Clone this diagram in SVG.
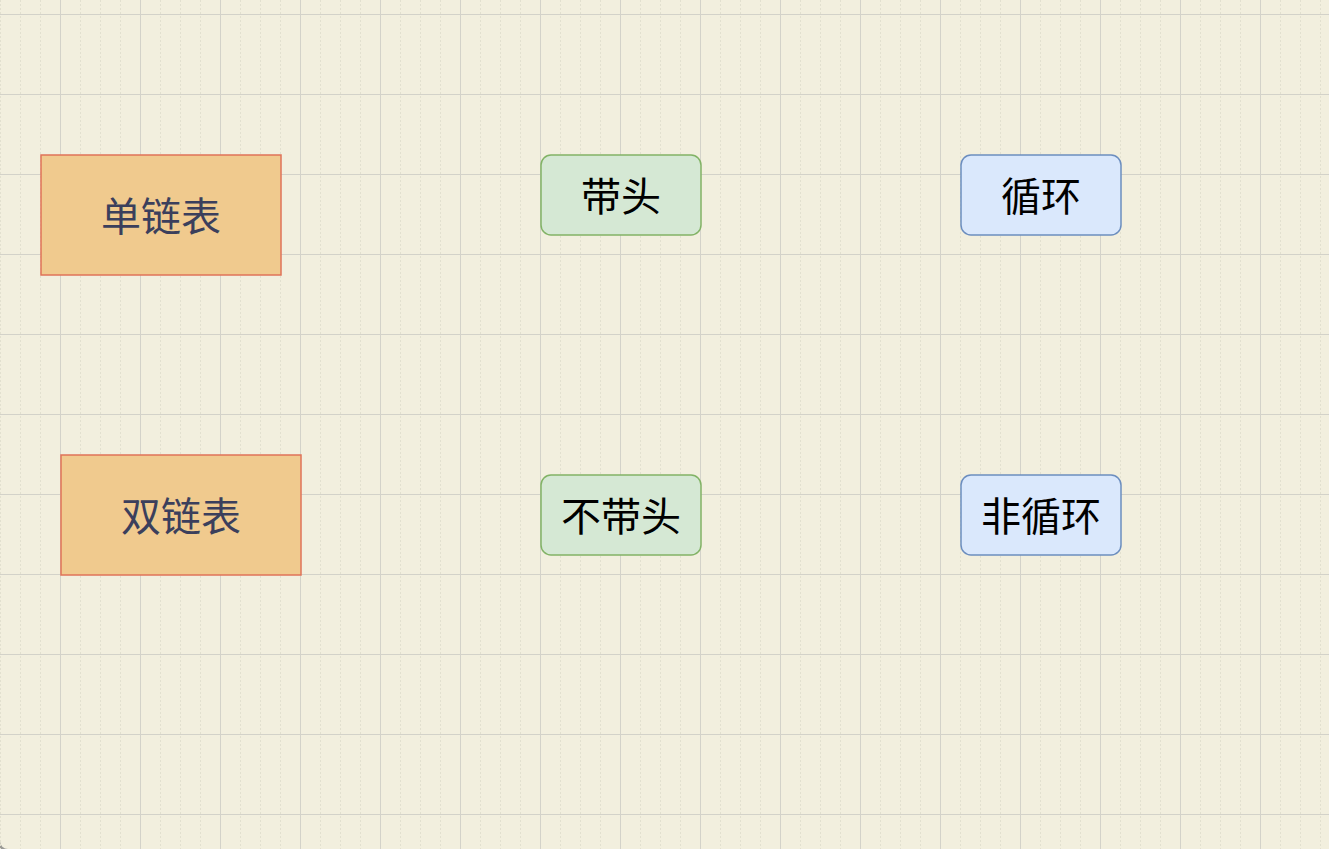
<svg xmlns="http://www.w3.org/2000/svg" width="1329" height="849" viewBox="0 0 1329 849">
<defs>
<pattern id="minor" x="0" y="0" width="20" height="4" patternUnits="userSpaceOnUse">
<path d="M0.5 0 V2" fill="none" stroke="#e2e0cf" stroke-width="1"/>
</pattern>
<pattern id="major" x="60" y="14" width="80" height="80" patternUnits="userSpaceOnUse">
<path d="M0 0.5 H80 M0.5 0 V80" fill="none" stroke="#d3d2c9" stroke-width="1"/>
</pattern>
</defs>
<style>
.cn{font-family:"Noto Sans CJK SC","Noto Sans",sans-serif;font-size:40px;text-anchor:middle;dominant-baseline:central}
.list rect{fill:#f0ca8e;stroke:#e07358;stroke-width:1.5}
.list text{fill:#3b3f5c}
.head rect{fill:#d5e8d4;stroke:#82b366;stroke-width:1.5}
.loop rect{fill:#dae8fc;stroke:#6c8ebf;stroke-width:1.5}
.head text,.loop text{fill:#000}
</style>
<rect width="1329" height="849" fill="#9a9a96"/>
<path d="M0 0 H1329 V849 H8 A8 8 0 0 1 0 841 Z" fill="#f2efde"/>
<rect width="1329" height="849" fill="url(#minor)"/>
<rect width="1329" height="849" fill="url(#major)"/>
<g id="connectors"></g>
<g id="node-single" class="list"><rect x="41" y="155" width="240" height="120"/><text class="cn" x="161" y="214">单链表</text></g>
<g id="node-double" class="list"><rect x="61" y="455" width="240" height="120"/><text class="cn" x="181" y="514">双链表</text></g>
<g id="node-head" class="head"><rect x="541" y="155" width="160" height="80" rx="10"/><text class="cn" x="621" y="194">带头</text></g>
<g id="node-nohead" class="head"><rect x="541" y="475" width="160" height="80" rx="10"/><text class="cn" x="621" y="514">不带头</text></g>
<g id="node-loop" class="loop"><rect x="961" y="155" width="160" height="80" rx="10"/><text class="cn" x="1041" y="194">循环</text></g>
<g id="node-noloop" class="loop"><rect x="961" y="475" width="160" height="80" rx="10"/><text class="cn" x="1041" y="514">非循环</text></g>
</svg>
